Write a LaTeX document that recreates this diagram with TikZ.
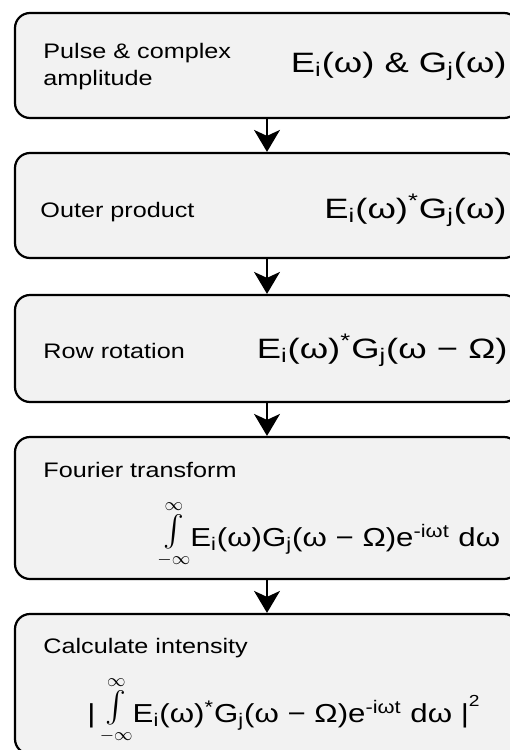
\documentclass[tikz,border=0pt]{standalone}
\usepackage{amsmath}
\usepackage{graphicx}
\usepackage{fontspec}
\setmainfont{Liberation Sans}[FakeStretch=1.2]
\newfontfamily\wideform{Liberation Sans}[FakeStretch=1.3]
\usetikzlibrary{arrows.meta}

\newcommand{\intlim}{$\mathop{\raisebox{3pt}{\scalebox{1.3}{$\int$}}}\limits_{-\infty}^{\infty}$}

\begin{document}
\begin{tikzpicture}[x=0.5pt, y=-0.5pt,
                    stagebox/.style={draw, line width=1.1pt, rounded corners=7.5pt,
                                     fill=black!5, minimum width=252pt, inner sep=0pt},
                    stagetext/.style={anchor=base west, inner sep=0pt, align=left,
                                      font=\fontsize{10.5}{13.5}\selectfont},
                    formtext/.style={anchor=base east, inner sep=0pt,
                                     font=\wideform\fontsize{14}{16}\selectfont},
                    inttext/.style={anchor=base west, inner sep=0pt,
                                    font=\fontsize{13}{15}\selectfont},
                    flow/.style={-{Stealth[length=11pt, width=13pt, inset=3pt]}, line width=0.8pt}]
  \useasboundingbox (0,0) rectangle (509,750);

  \node[stagebox, minimum height=52.5pt] (pulse)     at (267,65.5)  {};
  \node[stagebox, minimum height=52.5pt] (outer)     at (267,205.5) {};
  \node[stagebox, minimum height=53.5pt] (rotation)  at (267,348.5) {};
  \node[stagebox, minimum height=71pt]   (fourier)   at (267,508)   {};
  \node[stagebox, minimum height=70pt]   (intensity) at (267,684)   {};

  \node[stagetext] (pulse-t)     at (43,85)  {Pulse \& complex\\amplitude};
  \node[stagetext] (outer-t)     at (40,217) {Outer product};
  \node[stagetext] (rotation-t)  at (43,358) {Row rotation};
  \node[stagetext] (fourier-t)   at (43,477) {Fourier transform};
  \node[stagetext] (intensity-t) at (43,653) {Calculate intensity};

  \node[formtext] (pulse-f)    at (507,72)  {E\textsubscript{i}(ω) \& G\textsubscript{j}(ω)};
  \node[formtext] (outer-f)    at (507,218) {E\textsubscript{i}(ω)\textsuperscript{*}G\textsubscript{j}(ω)};
  \node[formtext] (rotation-f) at (508,358) {E\textsubscript{i}(ω)\textsuperscript{*}G\textsubscript{j}(ω − Ω)};
  \node[inttext] (fourier-f)   at (157,546)
    {\intlim E\textsubscript{i}(ω)G\textsubscript{j}(ω − Ω)e\textsuperscript{-iωt} dω};
  \node[inttext] (intensity-f) at (87,722)
    {|\,\intlim E\textsubscript{i}(ω)\textsuperscript{*}G\textsubscript{j}(ω − Ω)e\textsuperscript{-iωt} dω |\raisebox{8pt}{\fontsize{8}{8}\selectfont 2}};

  \draw[flow] (pulse) -- (outer);
  \draw[flow] (outer) -- (rotation);
  \draw[flow] (rotation) -- (fourier);
  \draw[flow] (fourier) -- (intensity);
\end{tikzpicture}
\end{document}
